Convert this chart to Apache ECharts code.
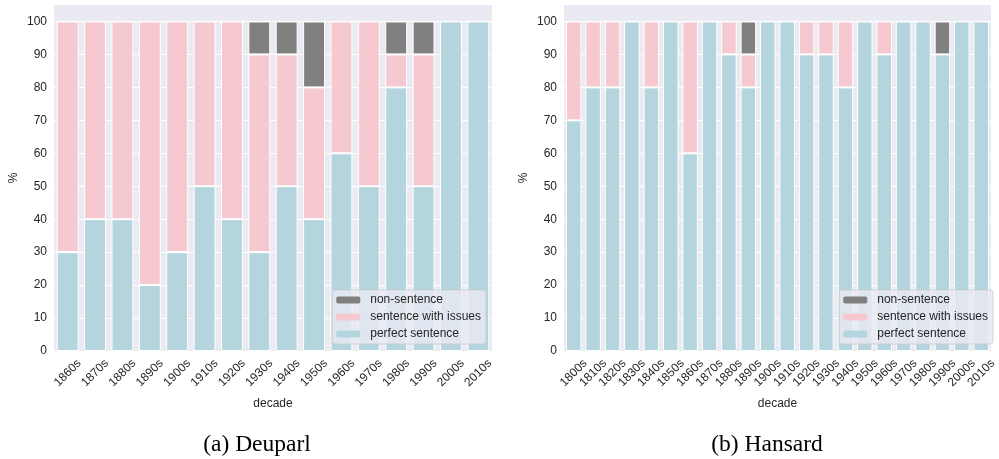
<!DOCTYPE html>
<html>
<head>
<meta charset="utf-8">
<script src="https://cdn.jsdelivr.net/npm/echarts@6/dist/echarts.min.js"></script>
<style>html,body{margin:0;padding:0;background:#fff}#c{width:999px;height:459px}</style>
</head>
<body>
<div id="c"></div>
<script>
const deuparlDecades = ['1860s','1870s','1880s','1890s','1900s','1910s','1920s','1930s','1940s','1950s','1960s','1970s','1980s','1990s','2000s','2010s'];
const deuparlPerfect = [30,40,40,20,30,50,40,30,50,40,60,50,80,50,100,100];
const deuparlIssues  = [70,60,60,80,70,50,60,60,40,40,40,50,10,40,0,0];
const deuparlNon     = [0,0,0,0,0,0,0,10,10,20,0,0,10,10,0,0];

const hansardDecades = ['1800s','1810s','1820s','1830s','1840s','1850s','1860s','1870s','1880s','1890s','1900s','1910s','1920s','1930s','1940s','1950s','1960s','1970s','1980s','1990s','2000s','2010s'];
const hansardPerfect = [70,80,80,100,80,100,60,100,90,80,100,100,90,90,80,100,90,100,100,90,100,100];
const hansardIssues  = [30,20,20,0,20,0,40,0,10,10,0,0,10,10,20,0,10,0,0,0,0,0];
const hansardNon     = [0,0,0,0,0,0,0,0,0,10,0,0,0,0,0,0,0,0,0,10,0,0];

const yTicks = [0,10,20,30,40,50,60,70,80,90,100];

const C_NON = '#808080', C_ISS = '#f6c8cf', C_PER = '#b4d4de';
const TXT = '#262626';
const FONT = 'Liberation Sans';

function xAxis(gi, cats) {
  return {
    type: 'category', gridIndex: gi, data: cats, boundaryGap: true,
    axisLine: {show: false}, axisTick: {show: false},
    axisLabel: {interval: 0, rotate: 45, align: 'center', verticalAlign: 'middle', margin: 22,
      color: TXT, fontSize: 12, fontFamily: FONT},
    name: 'decade', nameLocation: 'middle', nameGap: 47,
    nameTextStyle: {color: TXT, fontSize: 12, fontFamily: FONT},
    splitLine: {show: false}
  };
}
function yAxis(gi) {
  return {
    type: 'value', gridIndex: gi, min: 0, max: 105, interval: 10,
    axisLine: {show: false}, axisTick: {show: false},
    axisLabel: {showMaxLabel: false, color: TXT, fontSize: 12, fontFamily: FONT, margin: 7,
      formatter: v => yTicks.indexOf(v) >= 0 ? String(v) : ''},
    splitLine: {show: true, showMaxLine: false, lineStyle: {color: '#ffffff', width: 1}},
    name: '%', nameLocation: 'middle', nameGap: 34, nameRotate: 90,
    nameTextStyle: {color: TXT, fontSize: 12, fontFamily: FONT}
  };
}
function series(gi, per, iss, non) {
  const base = {type: 'bar', xAxisIndex: gi, yAxisIndex: gi, stack: 's' + gi, barWidth: '80%',
    itemStyle: {borderColor: '#ffffff', borderWidth: 1}};
  return [
    Object.assign({}, base, {name: 'perfect sentence', data: per, itemStyle: Object.assign({}, base.itemStyle, {color: C_PER})}),
    Object.assign({}, base, {name: 'sentence with issues', data: iss, itemStyle: Object.assign({}, base.itemStyle, {color: C_ISS})}),
    Object.assign({}, base, {name: 'non-sentence', data: non, itemStyle: Object.assign({}, base.itemStyle, {color: C_NON})})
  ];
}
function legend(right) {
  return {
    orient: 'vertical', right: right, top: 290,
    data: ['non-sentence', 'sentence with issues', 'perfect sentence'],
    itemWidth: 24, itemHeight: 7, itemGap: 3,
    padding: [3, 5, 3, 4],
    backgroundColor: 'rgba(234,234,242,0.8)', borderColor: 'rgba(204,204,204,0.8)', borderWidth: 1, borderRadius: 3,
    textStyle: {color: TXT, fontSize: 12, fontFamily: FONT, padding: [0, 0, 0, 5], lineHeight: 14},
    selectedMode: false,
    itemStyle: {borderWidth: 0}
  };
}

const chart = echarts.init(document.getElementById('c'), null, {renderer: 'canvas'});
chart.setOption({
  animation: false,
  backgroundColor: '#ffffff',
  title: [
    {text: '(a) Deuparl', left: 252, top: 428, textAlign: 'center',
     textStyle: {fontFamily: 'Liberation Serif', fontSize: 23.5, fontWeight: 'normal', color: '#000'}},
    {text: '(b) Hansard', left: 762, top: 428, textAlign: 'center',
     textStyle: {fontFamily: 'Liberation Serif', fontSize: 23.5, fontWeight: 'normal', color: '#000'}}
  ],
  grid: [
    {left: 54, right: 507, top: 5, bottom: 108, show: true, backgroundColor: '#eaeaf2', borderWidth: 0},
    {left: 564, right: 1, top: 5, bottom: 108, show: true, backgroundColor: '#eaeaf2', borderWidth: 0}
  ],
  legend: [legend(513), legend(6)],
  xAxis: [xAxis(0, deuparlDecades), xAxis(1, hansardDecades)],
  yAxis: [yAxis(0), yAxis(1)],
  series: [].concat(series(0, deuparlPerfect, deuparlIssues, deuparlNon),
                    series(1, hansardPerfect, hansardIssues, hansardNon))
});
</script>
</body>
</html>
